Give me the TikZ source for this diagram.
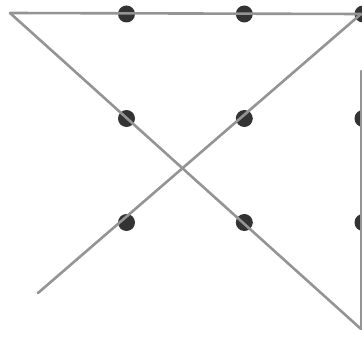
\documentclass[tikz,border=0pt]{standalone}
\begin{document}
\begin{tikzpicture}[x=1pt,y=-1pt,
  dot/.style={circle,fill=black!80,inner sep=0pt,minimum size=17pt},
  seg/.style={draw=black!42,line width=2.6pt,line cap=round,line join=round}]
\useasboundingbox (0,0) rectangle (362,337);
\fill[white] (0,0) rectangle (362,337);
\foreach \c/\x in {1/126.5,2/244.3,3/363}{
  \foreach \r/\y in {1/14,2/118.5,3/222.5}{
    \node[dot] (d\r\c) at (\x,\y) {};
  }
}
\coordinate (a) at (10,13);
\coordinate (b) at (361,14);
\coordinate (c) at (38,293);
\coordinate (e) at (361,71);
\coordinate (f) at (361,329);
\draw[seg] (a) -- (b.center);
\draw[seg] (a) -- (f);
\draw[seg] (c) -- (b);
\draw[seg] (e) -- (f);
\end{tikzpicture}
\end{document}
